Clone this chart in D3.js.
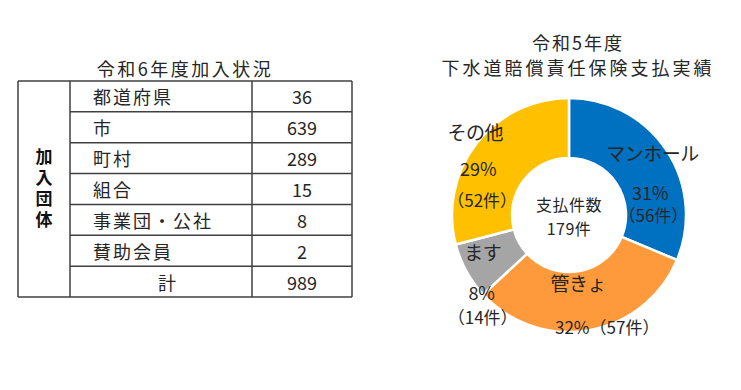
<!DOCTYPE html>
<html><head><meta charset="utf-8">
<script src="https://cdn.jsdelivr.net/npm/d3@7"></script>
<style>
html,body{margin:0;padding:0;background:#fff;}
svg{display:block;font-family:"Noto Sans CJK JP","Noto Sans",sans-serif;}
</style></head>
<body><svg id="c" width="741" height="390"></svg>
<script>
// ---- data ----
const tableTitle = "令和6年度加入状況";
const groupLabel = "加入団体";
const tableCategories = ["都道府県","市","町村","組合","事業団・公社","賛助会員"];
const tableValues = [36, 639, 289, 15, 8, 2];
const totalLabel = "計";
const totalValue = 989;

const pieTitle = ["令和5年度","下水道賠償責任保険支払実績"];
const pieCategories = ["マンホール","管きょ","ます","その他"];
const pieCounts = [56, 57, 14, 52];
const piePercents = [31, 32, 8, 29];
const centerLabel = ["支払件数","179件"];

const colors = ["#0070C0","#FF9A3C","#A5A5A5","#FFC000"];

const svg = d3.select("#c");
const txt = "#262626";

// ---- table ----
const tx0 = 18, tx1 = 70, tx2 = 252, tx3 = 352;
const rows = tableCategories.map((c,i)=>({cat:c, val:tableValues[i]}));
rows.push({cat: totalLabel, val: totalValue, total:true});
const y = d3.scaleBand().domain(d3.range(rows.length)).range([81, 297]);
const lineColor = "#404040";
const tg = svg.append("g");
tg.append("text").attr("x", 185).attr("y", 68).attr("text-anchor","middle")
  .attr("dominant-baseline","central").attr("font-size",18).attr("letter-spacing",2.5)
  .attr("fill",txt).text(tableTitle);
// borders
tg.append("line").attr("x1",tx0).attr("x2",tx3).attr("y1",y(0)).attr("y2",y(0)).attr("stroke",lineColor).attr("stroke-width",1.5);
tg.append("line").attr("x1",tx0).attr("x2",tx3).attr("y1",297).attr("y2",297).attr("stroke",lineColor).attr("stroke-width",1.5);
[tx0,tx1,tx2,tx3].forEach(x=>tg.append("line").attr("x1",x).attr("x2",x).attr("y1",81).attr("y2",297).attr("stroke",lineColor).attr("stroke-width",1.5));
d3.range(1, rows.length).forEach(i=>tg.append("line").attr("x1",tx1).attr("x2",tx3)
  .attr("y1",y(i)).attr("y2",y(i)).attr("stroke",lineColor).attr("stroke-width",1.5));
rows.forEach((r,i)=>{
  const cy = y(i)+y.bandwidth()/2;
  tg.append("text").attr("x", r.total ? (tx1+tx2)/2+6 : 93).attr("y",cy)
    .attr("text-anchor", r.total ? "middle":"start").attr("dominant-baseline","central")
    .attr("font-size",18).attr("letter-spacing", r.total?0:2).attr("fill",txt).text(r.cat);
  tg.append("text").attr("x",(tx2+tx3)/2).attr("y",cy).attr("text-anchor","middle")
    .attr("dominant-baseline","central").attr("font-size",18).attr("fill",txt).text(r.val);
});
tg.append("text").attr("x",(tx0+tx1)/2).attr("y",190).attr("text-anchor","middle")
  .attr("writing-mode","vertical-rl").attr("font-size",17).attr("font-weight","bold")
  .attr("letter-spacing",4).attr("fill","#111").text(groupLabel);

// ---- donut ----
const cx = 569, cy = 215, rOut = 117, rIn = 57;
const pg = svg.append("g");
pieTitle.forEach((t,i)=>pg.append("text").attr("x",578).attr("y",42+i*25)
  .attr("text-anchor","middle").attr("dominant-baseline","central").attr("font-size",18)
  .attr("letter-spacing",i?3:2).attr("fill",txt).text(t));
const pie = d3.pie().sort(null).value(d=>d)(pieCounts);
const arc = d3.arc().innerRadius(rIn).outerRadius(rOut);
const g = pg.append("g").attr("transform",`translate(${cx},${cy})`);
g.selectAll("path").data(pie).join("path").attr("d",arc)
  .attr("fill",(d,i)=>colors[i]).attr("stroke","#fff").attr("stroke-width",2.5);

const labelArc = d3.arc().innerRadius(87).outerRadius(87);
// per-slice label offsets relative to centroid: [name, pct, count]
const offs = [
  {name:[11,-14], pct:[9,25], cnt:[12,48], cntSep:true},
  {name:[-6,-18], pct:[23,26], cntSep:false},
  {name:[-10,-5], pct:[-11,35], cnt:[-10,60], cntSep:true},
  {name:[-25,-30], pct:[-22,6], cnt:[-18,38], cntSep:true}
];
pie.forEach((d,i)=>{
  const [mx,my] = labelArc.centroid(d);
  const o = offs[i];
  g.append("text").attr("x",mx+o.name[0]).attr("y",my+o.name[1]).attr("text-anchor","middle")
    .attr("dominant-baseline","central").attr("font-size",19).attr("letter-spacing",-0.5)
    .attr("fill",txt).text(pieCategories[i]);
  if (o.cntSep) {
    g.append("text").attr("x",mx+o.pct[0]).attr("y",my+o.pct[1]).attr("text-anchor","middle")
      .attr("dominant-baseline","central").attr("font-size",18).attr("fill",txt).text(piePercents[i]+"%");
    g.append("text").attr("x",mx+o.cnt[0]).attr("y",my+o.cnt[1]).attr("text-anchor","middle")
      .attr("dominant-baseline","central").attr("font-size",17).attr("fill",txt).text("（"+pieCounts[i]+"件）");
  } else {
    g.append("text").attr("x",mx+o.pct[0]).attr("y",my+o.pct[1]).attr("text-anchor","middle")
      .attr("dominant-baseline","central").attr("font-size",17).attr("fill",txt)
      .text(piePercents[i]+"%（"+pieCounts[i]+"件）");
  }
});
centerLabel.forEach((t,i)=>g.append("text").attr("x",0).attr("y",-11+i*24).attr("text-anchor","middle")
  .attr("dominant-baseline","central").attr("font-size",16).attr("letter-spacing",0.5)
  .attr("fill",txt).text(t));
</script></body></html>
